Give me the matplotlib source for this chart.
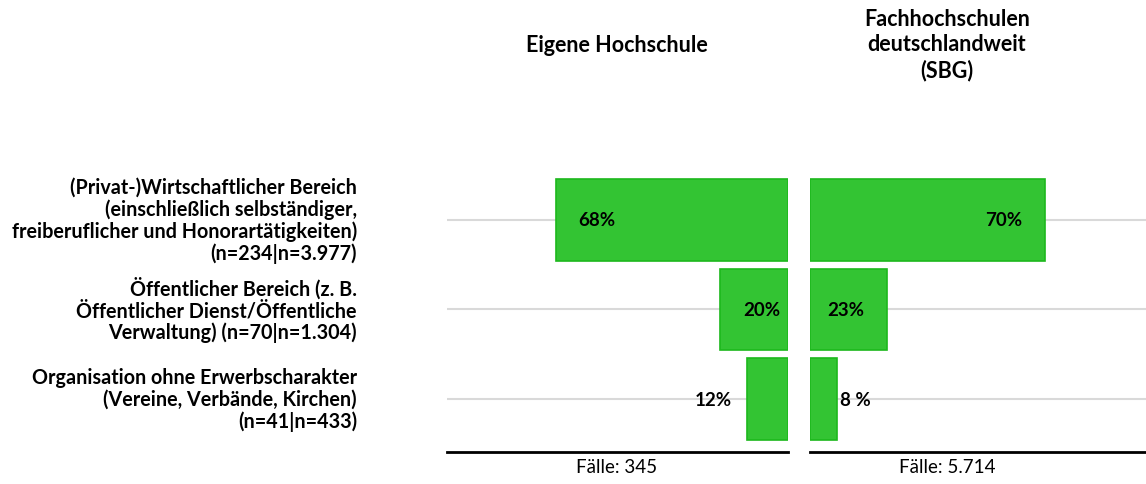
import numpy as np
import matplotlib.pyplot as plt

# Daten
kategorien = [
    "(Privat-)Wirtschaftlicher Bereich\n(einschließlich selbständiger,\nfreiberuflicher und Honorartätigkeiten)\n(n=234|n=3.977)",
    "Öffentlicher Bereich (z. B.\nÖffentlicher Dienst/Öffentliche\nVerwaltung) (n=70|n=1.304)",
    "Organisation ohne Erwerbscharakter\n(Vereine, Verbände, Kirchen)\n(n=41|n=433)",
]
eigene = [68, 20, 12]
sbg = [70, 23, 8]
eigene_txt = ["68%", "20%", "12%"]
sbg_txt = ["70%", "23%", "8 %"]
titel_links = "Eigene Hochschule"
titel_rechts = "Fachhochschulen\ndeutschlandweit\n(SBG)"
faelle_links = "Fälle: 345"
faelle_rechts = "Fälle: 5.714"

plt.rcParams['font.family'] = ['Lato', 'DejaVu Sans']
gruen = '#33C433'
rand = '#1DB81D'

fig = plt.figure(figsize=(11.46, 4.85), dpi=100)
ax_l = fig.add_axes([0.390, 0.066, 0.2975, 0.588])
ax_r = fig.add_axes([0.7068, 0.066, 0.2932, 0.588])

y = np.arange(len(kategorien))
# Position der Prozentwerte (in % vom Nullpunkt)
pos_l = [56, 7.6, 22]
pos_r = [57.5, 10.6, 13.5]

for ax, werte, txt, pos in [(ax_l, eigene, eigene_txt, pos_l), (ax_r, sbg, sbg_txt, pos_r)]:
    for yy in y:
        ax.axhline(yy, color='#D9D9D9', lw=1.5, zorder=0)
    ax.barh(y, werte, height=0.91, color=gruen, edgecolor=rand, lw=1.2, zorder=2)
    for i in range(len(werte)):
        ax.text(pos[i], y[i], txt[i], ha='center', va='center', fontsize=13.5,
                fontweight='bold', zorder=3)
    ax.set_xlim(0, 100)
    ax.set_ylim(2.59, -0.59)
    ax.set_xticks([])
    ax.set_yticks([])
    for s in ['top', 'left', 'right']:
        ax.spines[s].set_visible(False)
    ax.spines['bottom'].set_linewidth(2)
    ax.spines['bottom'].set_color('black')

ax_l.invert_xaxis()

for i, k in enumerate(kategorien):
    ax_l.text(-90 / 341, y[i], k, transform=ax_l.get_yaxis_transform(),
              ha='right', va='center', fontsize=14.2, fontweight='bold', linespacing=1.1)

fig.text(617 / 1146, 1 - 45 / 485, titel_links, ha='center', va='center', fontsize=15.5, fontweight='bold')
fig.text(947 / 1146, 1 - 45 / 485, titel_rechts, ha='center', va='center', fontsize=15.5,
         fontweight='bold', linespacing=1.25)
fig.text(617 / 1146, 1 - 468 / 485, faelle_links, ha='center', va='center', fontsize=13.5)
fig.text(947 / 1146, 1 - 468 / 485, faelle_rechts, ha='center', va='center', fontsize=13.5)

fig.savefig('out.png', dpi=100)
